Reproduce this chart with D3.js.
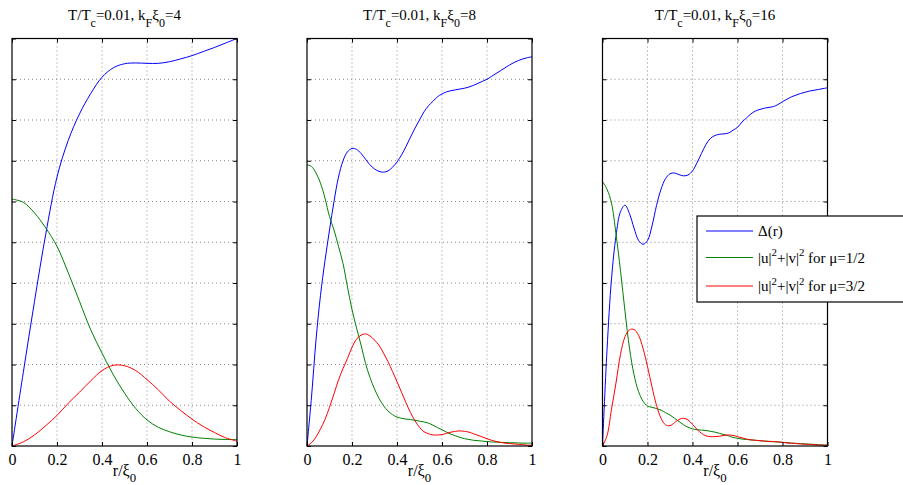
<!DOCTYPE html>
<html><head><meta charset="utf-8">
<script src="https://cdn.jsdelivr.net/npm/d3@7"></script>
<style>body{margin:0;background:#fff}svg{display:block}</style>
</head><body><svg id="c" width="903" height="485" font-family="Liberation Serif"></svg>
<script>
const xTicks = [0, 0.2, 0.4, 0.6, 0.8, 1];
const xTickLabels = ["0", "0.2", "0.4", "0.6", "0.8", "1"];
const yTicks = [0, 0.1, 0.2, 0.3, 0.4, 0.5, 0.6, 0.7, 0.8, 0.9, 1];
const kfValues = ["4", "8", "16"];
const seriesNames = ["Δ(r)", "μ=1/2", "μ=3/2"];

// panel 1 (kFξ0 = 4), r step 0.05
const r1 = d3.range(21).map(i => i / 20);
const delta1 = [0, 0.18, 0.355, 0.52, 0.66, 0.75, 0.815, 0.865, 0.905, 0.928, 0.938, 0.94, 0.939, 0.939, 0.943, 0.95, 0.958, 0.968, 0.978, 0.989, 1.0];
const half1 = [0.606, 0.598, 0.572, 0.535, 0.49, 0.425, 0.355, 0.285, 0.228, 0.175, 0.13, 0.092, 0.064, 0.046, 0.035, 0.027, 0.022, 0.019, 0.017, 0.016, 0.016];
const threeHalf1 = [0, 0.01, 0.027, 0.05, 0.075, 0.105, 0.132, 0.16, 0.185, 0.198, 0.197, 0.185, 0.163, 0.138, 0.11, 0.087, 0.066, 0.048, 0.033, 0.02, 0.012];

// panel 2 (kFξ0 = 8), r step 0.02
const r2 = d3.range(51).map(i => i / 50);
const delta2 = [0, 0.12, 0.26, 0.37, 0.455, 0.53, 0.6, 0.66, 0.7, 0.722, 0.73, 0.728, 0.718, 0.704, 0.69, 0.68, 0.674, 0.672, 0.675, 0.684, 0.697, 0.714, 0.735, 0.758, 0.78, 0.8, 0.82, 0.835, 0.846, 0.857, 0.864, 0.869, 0.872, 0.874, 0.876, 0.878, 0.881, 0.885, 0.89, 0.895, 0.9, 0.907, 0.914, 0.921, 0.928, 0.935, 0.941, 0.946, 0.95, 0.953, 0.955];
const half2 = [0.69, 0.686, 0.67, 0.645, 0.608, 0.563, 0.53, 0.49, 0.448, 0.39, 0.335, 0.29, 0.248, 0.203, 0.168, 0.14, 0.117, 0.099, 0.086, 0.077, 0.071, 0.068, 0.066, 0.065, 0.063, 0.061, 0.059, 0.056, 0.051, 0.045, 0.04, 0.034, 0.029, 0.025, 0.021, 0.018, 0.016, 0.014, 0.013, 0.012, 0.011, 0.01, 0.0095, 0.009, 0.0085, 0.008, 0.008, 0.0075, 0.007, 0.007, 0.007];
const threeHalf2 = [0, 0.008, 0.022, 0.042, 0.065, 0.095, 0.128, 0.162, 0.19, 0.215, 0.242, 0.262, 0.272, 0.275, 0.27, 0.26, 0.247, 0.228, 0.207, 0.183, 0.158, 0.132, 0.106, 0.082, 0.062, 0.046, 0.035, 0.03, 0.027, 0.027, 0.028, 0.031, 0.034, 0.036, 0.037, 0.036, 0.034, 0.03, 0.026, 0.022, 0.018, 0.014, 0.011, 0.009, 0.007, 0.006, 0.005, 0.004, 0.003, 0.002, 0.002];

// panel 3 (kFξ0 = 16), r step 0.02
const r3 = d3.range(51).map(i => i / 50);
const delta3 = [0, 0.235, 0.41, 0.515, 0.575, 0.591, 0.57, 0.535, 0.505, 0.495, 0.504, 0.54, 0.59, 0.63, 0.656, 0.668, 0.67, 0.666, 0.663, 0.665, 0.675, 0.695, 0.718, 0.74, 0.755, 0.762, 0.765, 0.766, 0.768, 0.775, 0.782, 0.795, 0.805, 0.815, 0.822, 0.826, 0.829, 0.831, 0.833, 0.838, 0.845, 0.851, 0.857, 0.861, 0.865, 0.868, 0.871, 0.873, 0.875, 0.877, 0.879];
const half3 = [0.649, 0.63, 0.596, 0.52, 0.43, 0.33, 0.24, 0.175, 0.134, 0.11, 0.098, 0.095, 0.092, 0.088, 0.082, 0.076, 0.068, 0.06, 0.052, 0.046, 0.042, 0.04, 0.039, 0.038, 0.036, 0.034, 0.031, 0.028, 0.025, 0.021, 0.019, 0.017, 0.016, 0.015, 0.014, 0.013, 0.012, 0.011, 0.0105, 0.01, 0.009, 0.008, 0.007, 0.0065, 0.006, 0.005, 0.0045, 0.004, 0.003, 0.0025, 0.002];
const threeHalf3 = [0, 0.025, 0.09, 0.155, 0.225, 0.268, 0.285, 0.286, 0.272, 0.24, 0.195, 0.145, 0.1, 0.068, 0.052, 0.05, 0.057, 0.065, 0.068, 0.064, 0.053, 0.041, 0.031, 0.025, 0.023, 0.023, 0.024, 0.026, 0.027, 0.026, 0.023, 0.02, 0.017, 0.015, 0.014, 0.013, 0.012, 0.0115, 0.011, 0.01, 0.009, 0.0075, 0.007, 0.006, 0.005, 0.0045, 0.004, 0.003, 0.0025, 0.002, 0.002];

const panels = [
  {kf: kfValues[0], r: r1, series: [delta1, half1, threeHalf1]},
  {kf: kfValues[1], r: r2, series: [delta2, half2, threeHalf2]},
  {kf: kfValues[2], r: r3, series: [delta3, half3, threeHalf3]}
];
const colors = ["#0000ff", "#008000", "#ff0000"];
const FONT = "Liberation Serif";

const svg = d3.select("#c");
const lefts = [12, 307, 602.5];
const W = 225, yTop = 38.5, yBot = 446;
const y = d3.scaleLinear().domain([0, 1]).range([yBot, yTop]);

function rich(g, segs, x, yb, size, anchor, subShift) {
  const t = g.append("text").attr("x", x).attr("y", yb).attr("font-size", size)
    .attr("font-family", FONT).attr("fill", "#000").attr("text-anchor", anchor || "middle");
  let cur = 0;
  segs.forEach(s => {
    const sp = t.append("tspan").text(s.t);
    let target = 0;
    if (s.sub) { sp.attr("font-size", size * 0.8); target = subShift; }
    else if (s.sup) { sp.attr("font-size", size * 0.72); target = -size * 0.42; }
    if (target - cur !== 0) sp.attr("dy", target - cur);
    cur = target;
  });
  return t;
}

panels.forEach((p, i) => {
  const x = d3.scaleLinear().domain([0, 1]).range([lefts[i], lefts[i] + W]);
  const g = svg.append("g");
  // grid
  g.selectAll(".vg").data(xTicks.slice(1, -1)).join("line")
    .attr("x1", d => x(d)).attr("x2", d => x(d)).attr("y1", yTop).attr("y2", yBot)
    .attr("stroke", "#8a8a8a").attr("stroke-width", 1).attr("stroke-dasharray", "1,3");
  g.selectAll(".hg").data(yTicks.slice(1, -1)).join("line")
    .attr("x1", lefts[i]).attr("x2", lefts[i] + W).attr("y1", d => y(d)).attr("y2", d => y(d))
    .attr("stroke", "#8a8a8a").attr("stroke-width", 1).attr("stroke-dasharray", "1,3");
  // curves
  p.series.forEach((s, k) => {
    const line = d3.line().x((d, j) => x(p.r[j])).y(d => y(d)).curve(d3.curveCatmullRom.alpha(0.5));
    g.append("path").attr("d", line(s)).attr("fill", "none").attr("stroke", colors[k]).attr("stroke-width", 1);
  });
  // axes (inside ticks on all sides)
  const ax = d3.axisBottom(x).tickValues(xTicks).tickSize(-4).tickFormat((d, j) => xTickLabels[j]);
  const axg = g.append("g").attr("transform", `translate(0,${yBot})`).call(ax).attr("font-family", FONT);
  axg.select(".domain").remove();
  axg.selectAll("text").attr("font-size", 16).attr("font-family", FONT).attr("dy", "0").attr("y", 19);
  const axt = d3.axisTop(x).tickValues(xTicks).tickSize(-4).tickFormat("");
  g.append("g").attr("transform", `translate(0,${yTop})`).call(axt).select(".domain").remove();
  const ayl = d3.axisLeft(y).tickValues(yTicks).tickSize(-4).tickFormat("");
  g.append("g").attr("transform", `translate(${lefts[i]},0)`).call(ayl).select(".domain").remove();
  const ayr = d3.axisRight(y).tickValues(yTicks).tickSize(-4).tickFormat("");
  g.append("g").attr("transform", `translate(${lefts[i] + W},0)`).call(ayr).select(".domain").remove();
  g.selectAll(".tick line").attr("stroke", "#000");
  g.append("rect").attr("x", lefts[i]).attr("y", yTop).attr("width", W).attr("height", yBot - yTop)
    .attr("fill", "none").attr("stroke", "#000").attr("stroke-width", 1.2);
  // title
  rich(g, [{t: "T/T"}, {t: "c", sub: true}, {t: "=0.01, k"}, {t: "F", sub: true}, {t: "ξ"}, {t: "0", sub: true}, {t: "=" + p.kf}],
    lefts[i] + W / 2, 20, 15, "middle", 7);
  // x label
  rich(g, [{t: "r/ξ"}, {t: "0", sub: true}], lefts[i] + W / 2, 476, 16, "middle", 6);
});

// legend
const lg = svg.append("g");
lg.append("rect").attr("x", 697).attr("y", 216).attr("width", 215).attr("height", 86)
  .attr("fill", "#fff").attr("stroke", "#000").attr("stroke-width", 1.2);
const ly = [231, 257.5, 286];
const legendTexts = [
  [{t: "Δ(r)"}],
  [{t: "|u|"}, {t: "2", sup: true}, {t: "+|v|"}, {t: "2", sup: true}, {t: " for " + seriesNames[1]}],
  [{t: "|u|"}, {t: "2", sup: true}, {t: "+|v|"}, {t: "2", sup: true}, {t: " for " + seriesNames[2]}]
];
ly.forEach((yy, k) => {
  lg.append("line").attr("x1", 706).attr("x2", 753).attr("y1", yy).attr("y2", yy).attr("stroke", colors[k]).attr("stroke-width", 1);
  rich(lg, legendTexts[k], 758, yy + 5, 15, "start", 0);
});
</script></body></html>
